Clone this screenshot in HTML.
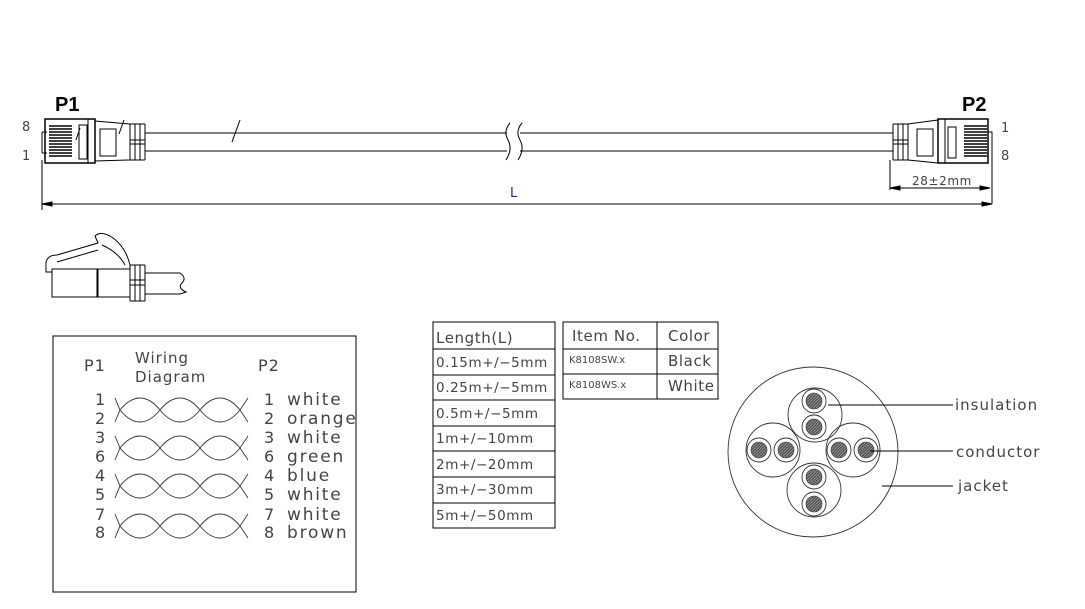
<!DOCTYPE html>
<html><head><meta charset="utf-8"><style>
html,body{margin:0;padding:0;background:#fff}
svg{display:block}
text{font-family:"DejaVu Sans","Liberation Sans",sans-serif;fill:#444}
</style></head><body>
<svg width="1085" height="609" viewBox="0 0 1085 609" xmlns="http://www.w3.org/2000/svg">
<defs>
<pattern id="h" width="3" height="3" patternUnits="userSpaceOnUse"><rect width="3" height="3" fill="#555"/><path d="M0 3L3 0" stroke="#999" stroke-width="0.8"/></pattern>
<g id="pair">
<path d="M115 -12L120 0C133 16 147 16 160 0C173 -16 187 -16 200 0C213 16 227 16 240 0L248 -12"/>
<path d="M115 12L120 0C133 -16 147 -16 160 0C173 16 187 16 200 0C213 -16 227 -16 240 0L248 12"/>
</g>
</defs>
<g stroke="#000" fill="none" stroke-width="1">
<!-- P1 -->
<rect x="45" y="119" width="50" height="44" stroke-width="1.5"/>
<line x1="88" y1="119" x2="88" y2="163"/>
<rect x="79" y="125" width="8" height="34"/>
<path d="M42 132H47M42 153H47M42 132V153"/>
<g stroke-width="1.4"><path d="M49 126H72M49 129H72M49 132H72M49 135H72M49 138H72M49 141H72M49 144H72M49 147H72M49 150H72M49 153H72M49 156H72"/></g>
<path d="M95 121L130 124M95 161L130 160"/>
<rect x="100" y="129" width="16" height="27"/>
<path d="M130 124V160M135 124V160M140 124V160M145 124V160M130 124H145M130 160H145M130 140H145M130 144H145"/>
<path d="M124 120L119 134" /><path d="M80 128L76 140"/>
<path d="M145 133H507M145 151H507M520 133H893M520 151H893"/>
<path d="M240 120L232 142"/>
<path d="M510 123Q503 131 508 140Q513 149 506 160M522 123Q515 131 520 140Q525 149 518 160"/>
<!-- P2 -->
<path d="M893 124V160M898 124V160M903 124V160M908 124V160M893 124H908M893 160H908M893 140H908M893 144H908"/>
<path d="M908 124L938 120M908 160L938 163"/>
<rect x="917" y="129" width="16" height="27"/>
<rect x="938" y="119" width="50" height="44" stroke-width="1.5"/>
<line x1="945" y1="119" x2="945" y2="163"/>
<rect x="948" y="127" width="8" height="31"/>
<g stroke-width="1.4"><path d="M964 126H987M964 129H987M964 132H987M964 135H987M964 138H987M964 141H987M964 144H987M964 147H987M964 150H987M964 153H987M964 156H987"/></g>
<path d="M988 132H992V204"/>
<!-- dims -->
<path d="M42 160V210M42 204H992M890 160V190M890 188H990"/>
<path d="M42 204l10 -2v4z" fill="#000"/><path d="M992 204l-10 -2v4z" fill="#000"/>
<path d="M890 188l10 -2v4z" fill="#000"/><path d="M990 188l-10 -2v4z" fill="#000"/>
<!-- side view -->
<path d="M52 269V297H97V269ZM98 269V297H130V269Z"/>
<path d="M130 265V301M135 265V301M140 265V301M145 265V301M130 265H145M130 301H145M130 280H145M130 285H145"/>
<path d="M145 273H180Q187 278 182 283Q177 288 186 292L180 294H145"/>
<path d="M52 272H46V262Q48 255 57 255L98 243L95 236Q100 231 110 236Q125 245 130 265"/>
<path d="M57 262L98 250M102 245Q118 252 125 265"/>
<!-- wiring box -->
<rect x="53" y="336" width="303" height="256"/>
<!-- tables -->
<rect x="433" y="322" width="122" height="206"/>
<path d="M433 349H555M433 375H555M433 400H555M433 426H555M433 451H555M433 477H555M433 503H555"/>
<rect x="563" y="322" width="155" height="77"/>
<path d="M563 349H718M563 374H718M657 322V399"/>
</g>
<g stroke="#333" fill="none" stroke-width="0.9">
<use href="#pair" transform="translate(0,410)"/>
<use href="#pair" transform="translate(0,448)"/>
<use href="#pair" transform="translate(0,486)"/>
<use href="#pair" transform="translate(0,526)"/>
</g>
<!-- cross section -->
<g stroke="#333" fill="none" stroke-width="0.9">
<circle cx="813" cy="452" r="85"/>
<circle cx="815" cy="415" r="27"/><circle cx="773" cy="450" r="27"/><circle cx="853" cy="450" r="27"/><circle cx="814" cy="490" r="27"/>
<circle cx="814" cy="401" r="12"/><circle cx="814" cy="427" r="12"/>
<circle cx="759" cy="450" r="12"/><circle cx="786" cy="450" r="12"/>
<circle cx="839" cy="450" r="12"/><circle cx="866" cy="450" r="12"/>
<circle cx="814" cy="477" r="12"/><circle cx="814" cy="504" r="12"/>
</g>
<g fill="url(#h)" stroke="#333" stroke-width="0.6">
<circle cx="814" cy="401" r="8"/><circle cx="814" cy="427" r="8"/>
<circle cx="759" cy="450" r="8"/><circle cx="786" cy="450" r="8"/>
<circle cx="839" cy="450" r="8"/><circle cx="866" cy="450" r="8"/>
<circle cx="814" cy="477" r="8"/><circle cx="814" cy="504" r="8"/>
</g>
<g stroke="#000" stroke-width="1"><path d="M828 405H953M870 451H953M882 486H953"/></g>
<!-- text -->
<text x="55" y="111" font-weight="bold" font-size="20" style="fill:#000;font-family:'Liberation Sans',sans-serif">P1</text>
<text x="962" y="111" font-weight="bold" font-size="20" style="fill:#000;font-family:'Liberation Sans',sans-serif">P2</text>
<g font-size="13" style="fill:#777">
<text x="22" y="131">8</text><text x="22" y="160">1</text>
<text x="1001" y="132">1</text><text x="1001" y="160">8</text>
</g>
<text x="510" y="197" font-size="13" style="fill:#23238a">L</text>
<text x="912" y="185" font-size="12" letter-spacing="0.6">28±2mm</text>
<g font-size="16" letter-spacing="1">
<text x="84" y="371">P1</text><text x="258" y="371">P2</text>
<text x="135" y="363" font-size="15">Wiring</text><text x="135" y="382" font-size="15">Diagram</text>
<text x="95" y="405">1</text><text x="95" y="424">2</text><text x="95" y="443">3</text><text x="95" y="462">6</text>
<text x="95" y="481">4</text><text x="95" y="500">5</text><text x="95" y="520">7</text><text x="95" y="538">8</text>
<text x="264" y="405">1</text><text x="264" y="424">2</text><text x="264" y="443">3</text><text x="264" y="462">6</text>
<text x="264" y="481">4</text><text x="264" y="500">5</text><text x="264" y="520">7</text><text x="264" y="538">8</text>
</g>
<g font-size="17" letter-spacing="1.8">
<text x="287" y="405">white</text><text x="287" y="424">orange</text><text x="287" y="443">white</text><text x="287" y="462">green</text>
<text x="287" y="481">blue</text><text x="287" y="500">white</text><text x="287" y="520">white</text><text x="287" y="538">brown</text>
</g>
<g font-size="13.5" letter-spacing="0.6">
<text x="436" y="343" font-size="15">Length(L)</text>
<text x="436" y="367">0.15m+/−5mm</text><text x="436" y="392">0.25m+/−5mm</text><text x="436" y="418">0.5m+/−5mm</text>
<text x="436" y="443">1m+/−10mm</text><text x="436" y="469">2m+/−20mm</text><text x="436" y="494">3m+/−30mm</text><text x="436" y="520">5m+/−50mm</text>
<text x="572" y="341" font-size="15">Item  No.</text><text x="668" y="341" font-size="15">Color</text>
<text x="668" y="366" font-size="15">Black</text><text x="668" y="391" font-size="15">White</text>
</g>
<g font-size="10"><text x="569" y="363">K8108SW.x</text><text x="569" y="388">K8108WS.x</text></g>
<g font-size="15" letter-spacing="1"><text x="955" y="410">insulation</text><text x="956" y="457">conductor</text><text x="958" y="491">jacket</text></g>
</svg>
</body></html>
